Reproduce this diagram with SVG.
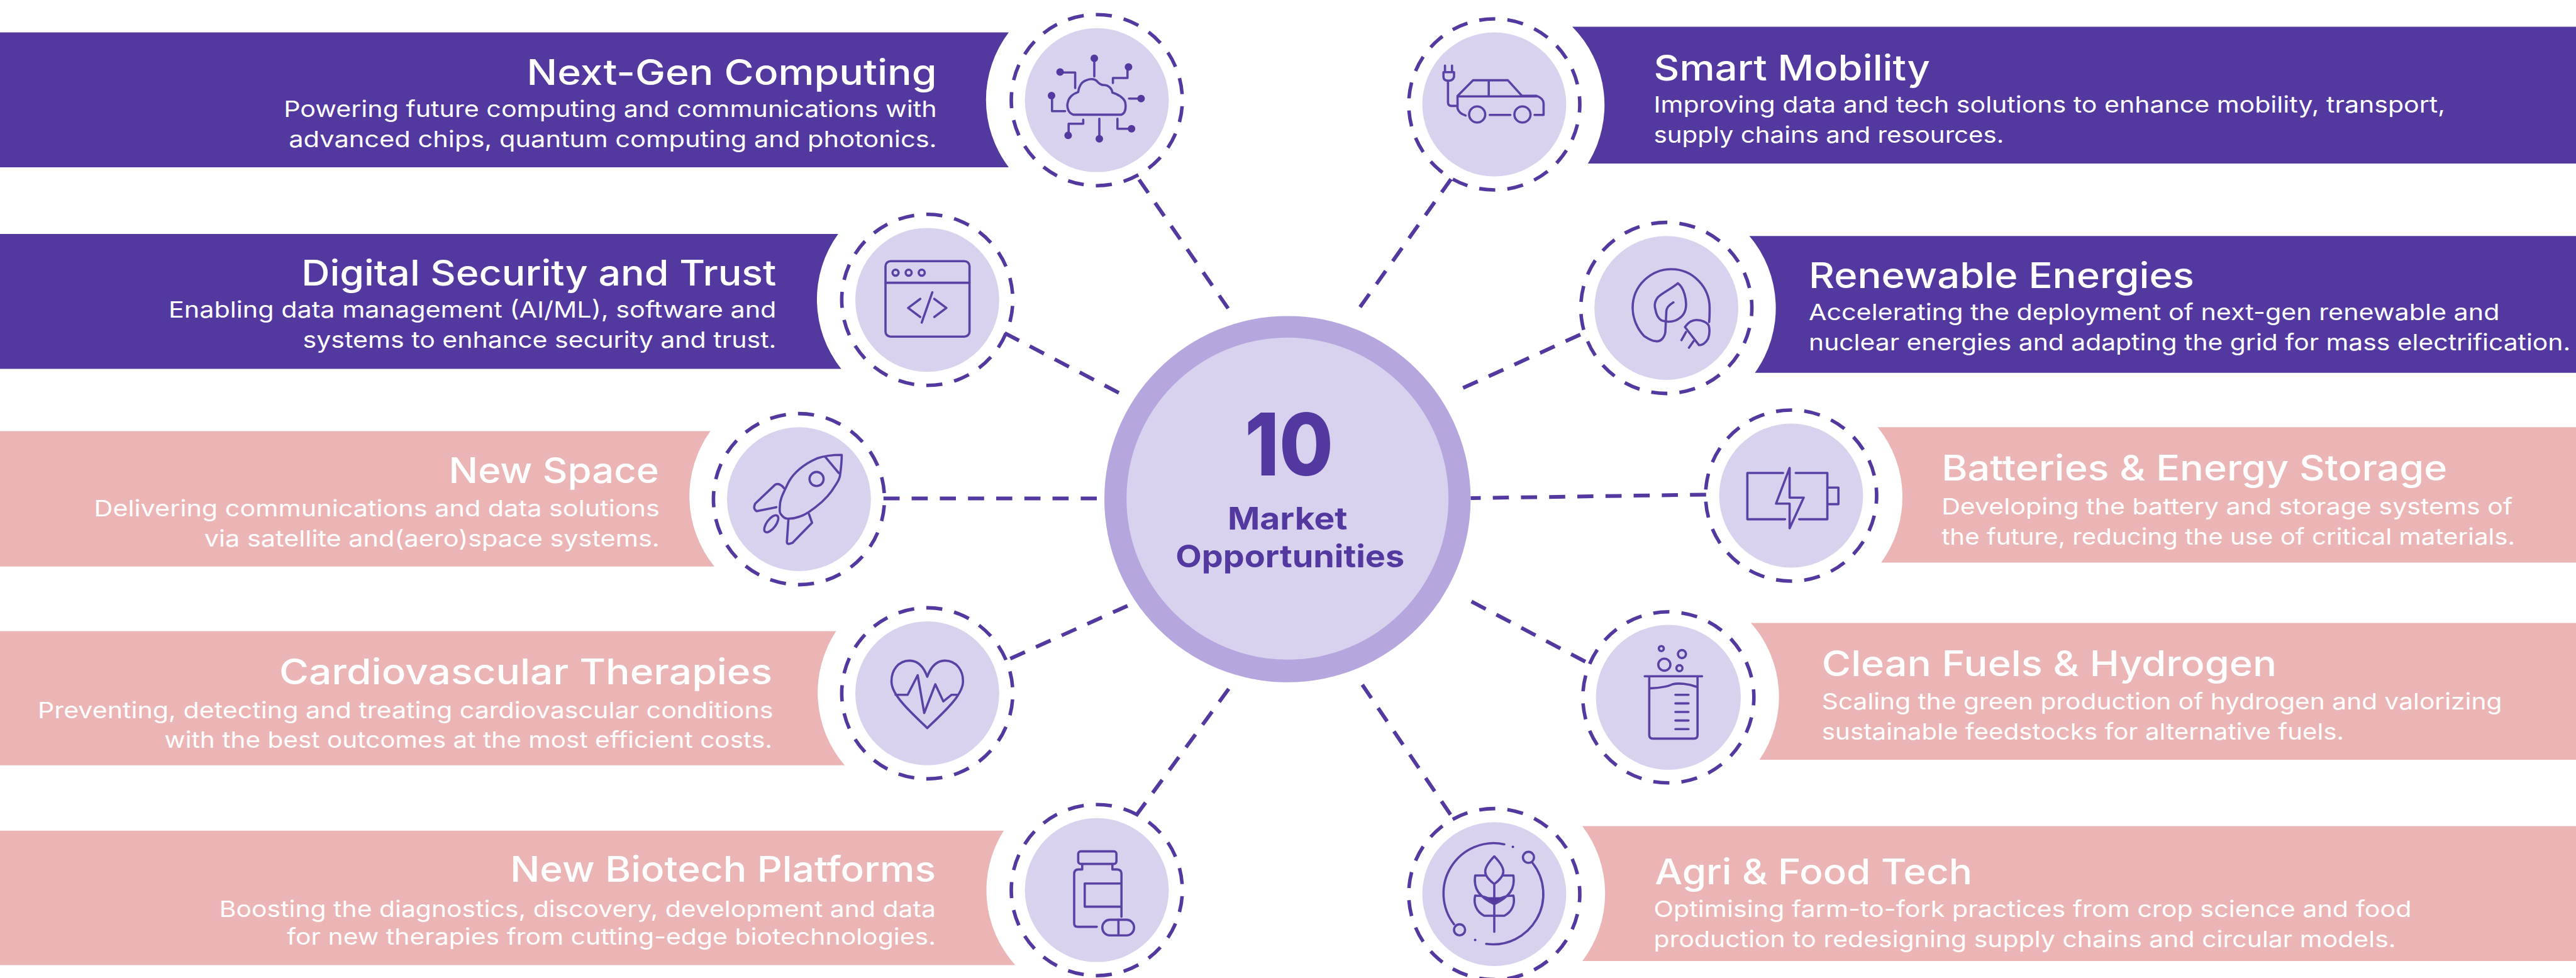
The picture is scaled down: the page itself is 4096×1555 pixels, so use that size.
<svg xmlns="http://www.w3.org/2000/svg" width="4096" height="1555" viewBox="0 0 4096 1555">
<style>
.bp{fill:#52389f}.bk{fill:#ecb5b5}
.disc{fill:#d9d2ef}
.ring{fill:none;stroke:#52389f;stroke-width:7;stroke-dasharray:.57 .43;stroke-dashoffset:.285}
.ic{fill:none;stroke:#5a42a5;stroke-width:4.5;stroke-linecap:round;stroke-linejoin:round}
.dot{fill:#52389f}
.t{font-family:"Inter","Noto Sans","Liberation Sans",sans-serif;fill:#fff}
.h{font-size:70px;font-weight:500}
.s{font-size:45px;font-weight:400}
.c{font-family:"Inter","Noto Sans","Liberation Sans",sans-serif;fill:#52389f;font-weight:700;text-anchor:middle}
#connectors line{stroke:#52389f;stroke-width:7.5;stroke-dasharray:32 24;fill:none}
</style>
<rect width="4096" height="1555" fill="#fff"/>
<g transform="scale(.8)">
<g id="connectors">
<line x1="2264" y1="357" x2="2441" y2="613"/>
<line x1="2884" y1="356" x2="2702" y2="612"/>
<line x1="1997" y1="662" x2="2230" y2="784"/>
<line x1="3141" y1="665" x2="2908" y2="771"/>
<line x1="1756" y1="990.5" x2="2180" y2="990.5"/>
<line x1="3391" y1="983" x2="2923" y2="990"/>
<line x1="2008" y1="1309" x2="2241" y2="1204"/>
<line x1="3151" y1="1315" x2="2922" y2="1194"/>
<line x1="2258" y1="1621" x2="2446" y2="1364"/>
<line x1="2883" y1="1619" x2="2707" y2="1360"/>
</g>

<g id="hub">
<circle cx="2559" cy="992" r="364" fill="#b5a6de"/>
<circle cx="2559" cy="991" r="320" fill="#d9d2ef"/>
<text class="c" x="2562" y="945" font-size="172" font-weight="800" style="font-weight:800" textLength="176" lengthAdjust="spacingAndGlyphs">10</text>
<text class="c" x="2559" y="1053" font-size="62" textLength="238" lengthAdjust="spacingAndGlyphs">Market</text>
<text class="c" x="2564" y="1128" font-size="62" textLength="455" lengthAdjust="spacingAndGlyphs">Opportunities</text>
</g>

<g id="next-gen-computing">
<path class="bp" d="M0 64.500H2005A221 221 0 0 0 2005 332.500H0Z"/>
<text class="t h" x="1047" y="169" textLength="815" lengthAdjust="spacingAndGlyphs">Next-Gen Computing</text>
<text class="t s" x="564" y="233" textLength="1298" lengthAdjust="spacingAndGlyphs">Powering future computing and communications with</text>
<text class="t s" x="574" y="292" textLength="1288" lengthAdjust="spacingAndGlyphs">advanced chips, quantum computing and photonics.</text>
<g transform="translate(2180 199)">
<circle class="disc" r="143"/>
<circle class="ring" r="170" pathLength="19" transform="rotate(180)"/>
<path class="ic" d="M-46 29C-56 27-60 15-58 6C-56-6-46-13-37-16C-36-26-31-36-22-39C-15-43-5-43 0-38C4-33 9-30 14-30C24-30 30-22 31-15C42-12 57-3 57 8C58 18 56 26 49 29Z"/>
<path class="ic" d="M-5-47V-83M32-34V-44H61V-66M-43-24V-55H-73M-63 22H-89V-9M64-3H88M41 37V57H69M5 37V77M-27 39V47H-56V70"/>
<circle class="dot" cx="-5" cy="-83" r="7.500"/><circle class="dot" cx="63" cy="-66" r="7.500"/><circle class="dot" cx="-73" cy="-56" r="7.500"/><circle class="dot" cx="-90" cy="-9" r="7.500"/><circle class="dot" cx="88" cy="-3" r="7.500"/><circle class="dot" cx="69" cy="57" r="7.500"/><circle class="dot" cx="5" cy="77" r="7.500"/><circle class="dot" cx="-57" cy="70" r="7.500"/>
</g>
</g>

<g id="digital-security-and-trust">
<path class="bp" d="M0 465H1666A221 221 0 0 0 1672 733H0Z"/>
<text class="t h" x="599" y="568" textLength="944" lengthAdjust="spacingAndGlyphs">Digital Security and Trust</text>
<text class="t s" x="335" y="631.500" textLength="1208" lengthAdjust="spacingAndGlyphs">Enabling data management (AI/ML), software and</text>
<text class="t s" x="602" y="691" textLength="941" lengthAdjust="spacingAndGlyphs">systems to enhance security and trust.</text>
<g transform="translate(1843 596)">
<circle class="disc" r="143"/>
<circle class="ring" r="170" pathLength="19" transform="rotate(180)"/>
<rect class="ic" x="-83" y="-77" width="167" height="150" rx="10"/>
<path class="ic" d="M-83-34H84M-14-2L-38 16L-14 34M14-2L38 16L14 34M10-15L-11 45"/>
<circle class="ic" cx="-63" cy="-54" r="6"/><circle class="ic" cx="-37" cy="-54" r="6"/><circle class="ic" cx="-11" cy="-54" r="6"/>
</g>
</g>

<g id="new-space">
<path class="bk" d="M0 857H1412A221 221 0 0 0 1420 1126H0Z"/>
<text class="t h" x="892" y="960" textLength="418" lengthAdjust="spacingAndGlyphs">New Space</text>
<text class="t s" x="187" y="1026" textLength="1124" lengthAdjust="spacingAndGlyphs">Delivering communications and data solutions</text>
<text class="t s" x="406" y="1086" textLength="905" lengthAdjust="spacingAndGlyphs">via satellite and(aero)space systems.</text>
<g transform="translate(1588 992)">
<circle class="disc" r="143"/>
<circle class="ring" r="170" pathLength="19" transform="rotate(180)"/>
<path class="ic" d="M85-88C68-88 50-86 36-81C10-70-12-52-22-31C-32-10-38 0-38 15C-39 25-38 28-36 30C-32 36-28 39-22 39C-8 39 8 33 19 26C40 12 55-2 65-16C74-30 82-40 82-50C84-65 85-75 85-88Z"/>
<path class="ic" d="M53-83L79-52M-30-22C-33-27-40-32-47-29L-87 9C-90 16-90 20-84 24L-45 16M20 30L26 47L-13 87C-20 90-24 90-24 85L-21 41"/>
<circle class="ic" cx="35" cy="-40" r="14"/>
<ellipse class="ic" cx="-55" cy="49" rx="9" ry="20" transform="rotate(36.600 -55 49)"/>
</g>
</g>

<g id="cardiovascular-therapies">
<path class="bk" d="M0 1254.500H1662A221 221 0 0 0 1679 1521H0Z"/>
<text class="t h" x="555" y="1360" textLength="980" lengthAdjust="spacingAndGlyphs">Cardiovascular Therapies</text>
<text class="t s" x="75" y="1427" textLength="1462" lengthAdjust="spacingAndGlyphs">Preventing, detecting and treating cardiovascular conditions</text>
<text class="t s" x="327" y="1486" textLength="1208" lengthAdjust="spacingAndGlyphs">with the best outcomes at the most efficient costs.</text>
<g transform="translate(1843 1378)">
<circle class="disc" r="143"/>
<circle class="ring" r="170" pathLength="19" transform="rotate(180)"/>
<path class="ic" d="M0-33C-8-55-20-65-35-65C-58-65-72-45-71-22C-70 5-30 40 0 69C30 40 70 5 71-22C72-45 58-65 35-65C20-65 8-55 0-33Z"/>
<path class="ic" d="M-63 3H-39L-19-36L-6 39L16-18L32 16L48 3H60"/>
</g>
</g>

<g id="new-biotech-platforms">
<path class="bk" d="M0 1651H1995A221 221 0 0 0 2018 1918H0Z"/>
<text class="t h" x="1014" y="1753" textLength="846" lengthAdjust="spacingAndGlyphs">New Biotech Platforms</text>
<text class="t s" x="436" y="1822" textLength="1424" lengthAdjust="spacingAndGlyphs">Boosting the diagnostics, discovery, development and data</text>
<text class="t s" x="570" y="1877" textLength="1290" lengthAdjust="spacingAndGlyphs">for new therapies from cutting-edge biotechnologies.</text>
<g transform="translate(2180 1769)">
<circle class="disc" r="143"/>
<circle class="ring" r="170" pathLength="19" transform="rotate(180)"/>
<rect class="ic" x="-37" y="-77" width="76" height="25" rx="5"/>
<path class="ic" d="M-29-52V-41H-36Q-45-41-45-32V66Q-45 73-38 73H0M31-52V-41H39Q49-41 49-32V53M49-13H-24V33H49"/>
<rect class="ic" x="11" y="59" width="63" height="31" rx="15"/>
<path class="ic" d="M43 59V90"/>
</g>
</g>

<g id="smart-mobility">
<path class="bp" d="M5120 53H3125A221 221 0 0 1 3156 325H5120Z"/>
<text class="t h" x="3287" y="160" textLength="549" lengthAdjust="spacingAndGlyphs">Smart Mobility</text>
<text class="t s" x="3287" y="224" textLength="1573" lengthAdjust="spacingAndGlyphs">Improving data and tech solutions to enhance mobility, transport,</text>
<text class="t s" x="3287" y="283.500" textLength="696" lengthAdjust="spacingAndGlyphs">supply chains and resources.</text>
<g transform="translate(2970 207.500)">
<circle class="disc" r="143"/>
<circle class="ring" r="170" pathLength="19"/>
<path class="ic" d="M-98-77V-65M-84-77V-65M-101-64H-80V-55Q-82-47-91-47Q-101-47-101-55ZM-92-47V-4Q-92 3-85 3H-73M-73-17V8Q-70 18-57 22M-73-17L-42-48H27L55-17H84Q98-12 98-2V21H80M-73-16H84M-11-48V-16M-9 21H32"/>
<circle class="ic" cx="-34" cy="20" r="16"/><circle class="ic" cx="56" cy="20" r="16"/>
</g>
</g>

<g id="renewable-energies">
<path class="bp" d="M5120 469H3477A221 221 0 0 1 3488 741H5120Z"/>
<text class="t h" x="3595" y="573" textLength="766" lengthAdjust="spacingAndGlyphs">Renewable Energies</text>
<text class="t s" x="3595" y="636" textLength="1373" lengthAdjust="spacingAndGlyphs">Accelerating the deployment of next-gen renewable and</text>
<text class="t s" x="3595" y="696" textLength="1514" lengthAdjust="spacingAndGlyphs">nuclear energies and adapting the grid for mass electrification.</text>
<g transform="translate(3312 612)">
<circle class="disc" r="143"/>
<circle class="ring" r="170" pathLength="19"/>
<path class="ic" d="M14-11C4-5 0 0 0 7L-2 48C-4 60-12 68-21 66C-30 66-38 60-44 56C-58 42-67 20-67 0C-67-45-30-77 10-77C52-77 86-42 86 0C86 10 86 20 85 28"/>
<path class="ic" d="M23-49C10-38-8-30-17-21C-24-12-24-5-22 2C-20 14-15 22-9 25C0 28 10 28 18 25C30 20 38 10 39-3C40-15 36-40 23-49Z"/>
<path class="ic" d="M37 38C44 28 52 24 60 24C72 24 84 30 85 38C87 50 84 58 83 61C78 70 72 74 65 74ZM39 48L30 64M54 66L45 79"/>
</g>
</g>

<g id="batteries-energy-storage">
<path class="bk" d="M5120 849H3732A221 221 0 0 1 3739 1118H5120Z"/>
<text class="t h" x="3859" y="955" textLength="1005" lengthAdjust="spacingAndGlyphs">Batteries &amp; Energy Storage</text>
<text class="t s" x="3859" y="1022" textLength="1135" lengthAdjust="spacingAndGlyphs">Developing the battery and storage systems of</text>
<text class="t s" x="3859" y="1082" textLength="1140" lengthAdjust="spacingAndGlyphs">the future, reducing the use of critical materials.</text>
<g transform="translate(3560 985)">
<circle class="disc" r="143"/>
<circle class="ring" r="170" pathLength="19"/>
<path class="ic" d="M-16-45H-87V47H-12M9-45H72V47H16M72-16H94V17H72M-3-55L-30 16H-3V65L25 4H-3Z"/>
</g>
</g>

<g id="clean-fuels-hydrogen">
<path class="bk" d="M5120 1238H3480A221 221 0 0 1 3497 1510H5120Z"/>
<text class="t h" x="3621" y="1344" textLength="904" lengthAdjust="spacingAndGlyphs">Clean Fuels &amp; Hydrogen</text>
<text class="t s" x="3621" y="1410" textLength="1352" lengthAdjust="spacingAndGlyphs">Scaling the green production of hydrogen and valorizing</text>
<text class="t s" x="3621" y="1470" textLength="1038" lengthAdjust="spacingAndGlyphs">sustainable feedstocks for alternative fuels.</text>
<g transform="translate(3316 1386)">
<circle class="disc" r="144"/>
<circle class="ring" r="170" pathLength="19"/>
<path class="ic" d="M-47-42H67M-38-42V75Q-38 82-31 82H51Q58 82 58 75V-42M-36-18C-15-19 0-22 8-26C20-29 40-27 56-21M14-5H40M14 12H40M14 29H40M14 46H40M14 63H40"/>
<circle class="ic" cx="-8" cy="-65" r="12"/><circle class="ic" cx="-14" cy="-97" r="5"/><circle class="ic" cx="27" cy="-86" r="8"/><circle class="ic" cx="22" cy="-58" r="6"/>
</g>
</g>

<g id="agri-food-tech">
<path class="bk" d="M5120 1642H3145A221 221 0 0 1 3145 1910H5120Z"/>
<text class="t h" x="3289" y="1757" textLength="631" lengthAdjust="spacingAndGlyphs">Agri &amp; Food Tech</text>
<text class="t s" x="3287" y="1822" textLength="1506" lengthAdjust="spacingAndGlyphs">Optimising farm-to-fork practices from crop science and food</text>
<text class="t s" x="3287" y="1882" textLength="1475" lengthAdjust="spacingAndGlyphs">production to redesigning supply chains and circular models.</text>
<g transform="translate(2970 1777)">
<circle class="disc" r="143"/>
<circle class="ring" r="170" pathLength="19"/>
<path class="ic" d="M20-99A100 100 0 0 0-80 60M-16 99A100 100 0 0 0 76-62"/>
<circle class="ic" cx="68" cy="-73" r="11"/><circle class="ic" cx="-69" cy="71" r="11"/>
<circle class="dot" cx="37" cy="-94" r="2.500"/><circle class="dot" cx="-38" cy="91" r="2.500"/>
<path class="ic" d="M0-20V75M0-75C-24-50-24-38 0-20C24-38 24-50 0-75ZM-18-37H-38C-42-10-30 5 0 20C30 5 42-10 38-37H18M0 43H-20C-35 35-42 20-38 3C-25 3-10 5 0 20C10 5 25 3 38 3C42 20 35 35 20 43Z"/>
<path class="dot" d="M-14 6H14L0 22Z"/>
</g>
</g>
</g>
</svg>
